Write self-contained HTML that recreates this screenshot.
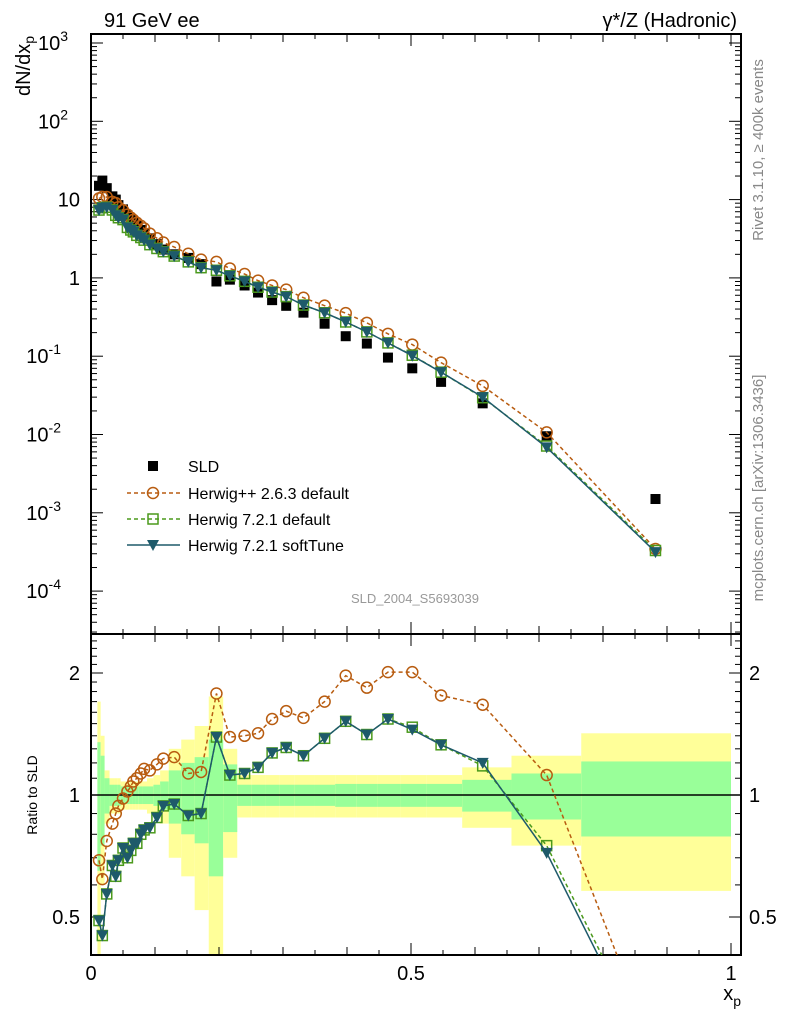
<!DOCTYPE html>
<html><head><meta charset="utf-8"><style>
html,body{margin:0;padding:0;background:#fff;overflow:hidden;width:786px;height:1024px}
svg{display:block;position:absolute;left:0;top:0;font-family:"Liberation Sans",sans-serif}
</style></head><body>
<svg id="c" width="786" height="1024" viewBox="0 0 786 1024" xmlns="http://www.w3.org/2000/svg" overflow="hidden">
<defs>
<clipPath id="cm"><rect x="91" y="34" width="650" height="600"/></clipPath>
<clipPath id="cr"><rect x="91" y="634" width="650" height="321"/></clipPath>
</defs>
<g id="bands" clip-path="url(#cr)"></g>
<g id="grid"></g>
<g id="series"></g>
<text x="104" y="27" font-size="20">91 GeV ee</text>
<text x="737" y="27" font-size="20" text-anchor="end">γ*/Z (Hadronic)</text>
<text transform="translate(30,36) rotate(-90)" font-size="20" text-anchor="end">dN/dx<tspan font-size="14" dy="4">p</tspan></text>
<text transform="translate(37,795) rotate(-90)" font-size="14" text-anchor="middle">Ratio to SLD</text>
<text x="741" y="1000" font-size="20" text-anchor="end">x<tspan font-size="14" dy="6">p</tspan></text>
<text transform="translate(763,150) rotate(-90)" font-size="15" fill="#888" text-anchor="middle">Rivet 3.1.10, ≥ 400k events</text>
<text transform="translate(763,488) rotate(-90)" font-size="15" fill="#888" text-anchor="middle">mcplots.cern.ch [arXiv:1306.3436]</text>
<text x="415" y="603" font-size="13" fill="#999" text-anchor="middle">SLD_2004_S5693039</text>
<g id="legend"></g>
</svg>
<script>
const xs=[0.0125,0.0177,0.0246,0.0334,0.0387,0.0428,0.050,0.0569,0.0622,0.0662,0.0716,0.0778,0.083,0.092,0.103,0.113,0.130,0.152,0.172,0.196,0.217,0.240,0.261,0.283,0.305,0.332,0.365,0.398,0.431,0.464,0.502,0.547,0.612,0.712,0.882];
const binEdges=[0.01,0.0151,0.0212,0.029,0.036,0.0408,0.0464,0.0535,0.0596,0.0642,0.0689,0.0747,0.0804,0.0875,0.0975,0.108,0.1215,0.141,0.162,0.184,0.2065,0.2285,0.2505,0.272,0.294,0.3185,0.3485,0.3815,0.4145,0.4475,0.483,0.5245,0.58,0.657,0.766,1.0];
const sld=[15,17.5,14,11,10,8.5,7.5,6.3,5.6,5.1,4.6,4.1,3.7,3.2,2.7,2.3,2.0,1.8,1.5,0.9,0.95,0.8,0.65,0.52,0.44,0.36,0.26,0.18,0.145,0.096,0.07,0.047,0.025,0.0095,0.0015];
const ratioOld=[0.69,0.62,0.77,0.85,0.90,0.94,0.98,1.02,1.05,1.08,1.10,1.13,1.16,1.15,1.19,1.23,1.24,1.13,1.14,1.78,1.39,1.40,1.42,1.54,1.61,1.55,1.70,1.97,1.84,2.01,2.01,1.76,1.67,1.12,0.23];
const ratioDef=[0.49,0.45,0.57,0.67,0.63,0.69,0.74,0.70,0.73,0.76,0.76,0.80,0.82,0.83,0.88,0.94,0.95,0.89,0.90,1.39,1.12,1.13,1.17,1.27,1.31,1.25,1.38,1.52,1.41,1.54,1.47,1.33,1.18,0.75,0.22];
const ratioSoft=[0.49,0.45,0.57,0.67,0.63,0.69,0.74,0.70,0.73,0.76,0.76,0.80,0.82,0.83,0.88,0.94,0.95,0.89,0.90,1.39,1.12,1.13,1.17,1.27,1.31,1.25,1.38,1.52,1.41,1.54,1.45,1.33,1.20,0.72,0.21];
const errTot=[0.7,0.4,0.15,0.1,0.1,0.1,0.08,0.08,0.08,0.08,0.08,0.08,0.08,0.1,0.12,0.15,0.3,0.37,0.48,0.75,0.3,0.12,0.12,0.12,0.12,0.12,0.12,0.12,0.12,0.12,0.12,0.12,0.17,0.25,0.42];
const errStat=[0.35,0.25,0.1,0.06,0.06,0.06,0.05,0.05,0.05,0.05,0.05,0.05,0.05,0.05,0.06,0.08,0.15,0.2,0.24,0.37,0.19,0.06,0.06,0.06,0.06,0.06,0.06,0.065,0.065,0.065,0.065,0.065,0.09,0.13,0.21];
const mainTicks=["10^3","10^2","10","1","10^-1","10^-2","10^-3","10^-4"];
const ratioTicks=["2","1","0.5"];
const xTicks=["0","0.5","1"];

const NS="http://www.w3.org/2000/svg";
const X=v=>91+640*v;
const Y=v=>43+78.3*(3-Math.log10(v));
const R=r=>795-122*Math.log2(r);
function mk(tag,at,parent){const e=document.createElementNS(NS,tag);for(const k in at)e.setAttribute(k,at[k]);parent.appendChild(e);return e;}
const bands=document.getElementById('bands'),grid=document.getElementById('grid'),ser=document.getElementById('series'),leg=document.getElementById('legend');

xs.forEach((x,i)=>{
  const x0=X(binEdges[i]),x1=X(binEdges[i+1]);
  const lo=Math.max(1-errTot[i],0.3);
  const y=mk('rect',{x:x0,y:R(1+errTot[i]),width:x1-x0,height:R(lo)-R(1+errTot[i]),fill:'#ffff99'},bands);
  
  
  const g=mk('rect',{x:x0,y:R(1+errStat[i]),width:x1-x0,height:R(1-errStat[i])-R(1+errStat[i]),fill:'#99ff99'},bands);
  
  
});
const one=mk('line',{x1:91,x2:741,y1:R(1),y2:R(1),stroke:'#000','stroke-width':1.5},bands);



[[34,634],[634,955]].forEach(([t,b],k)=>{
  const f=mk('rect',{x:91,y:t,width:650,height:b-t,fill:'none',stroke:'#000','stroke-width':2},grid);
  
  
  for(let j=0;j<=20;j++){
    const v=j*0.05,px=X(v),L=j%10==0?12:(j%2==0?8:5);
    mk('line',{x1:px,x2:px,y1:b,y2:b-L,stroke:'#000','stroke-width':1},grid);
    mk('line',{x1:px,x2:px,y1:t,y2:t+L,stroke:'#000','stroke-width':1},grid);
  }
});
xTicks.forEach(s=>{
  const t=mk('text',{x:X(parseFloat(s)),y:980,'font-size':20,'text-anchor':'middle'},grid);
  t.textContent=s;
  
  
});
for(let d=-5;d<=3;d++){
  for(let m=1;m<10;m++){
    const v=m*Math.pow(10,d),py=Y(v);
    if(py<34||py>634)continue;
    const L=m==1?12:6;
    mk('line',{x1:91,x2:91+L,y1:py,y2:py,stroke:'#000'},grid);
    mk('line',{x1:741,x2:741-L,y1:py,y2:py,stroke:'#000'},grid);
  }
}
mainTicks.forEach(s=>{
  let v;
  if(s.includes('^')){const e=parseInt(s.split('^')[1]);v=Math.pow(10,e);}else v=parseFloat(s);
  const t=mk('text',{x:s.includes('^')?(s.includes('-')?61:68):80,y:Y(v)+7,'font-size':20,'text-anchor':'end'},grid);
  
  
  if(s.includes('^')){
    t.appendChild(document.createTextNode('10'));
    const sp=mk('tspan',{'font-size':14,dy:-9},t);sp.textContent=s.split('^')[1];
  } else t.textContent=s;
});
for(let k=4;k<=25;k++){
  const r=k/10,py=R(r);
  if(py<634||py>955)continue;
  const L=(k==5||k==10||k==20)?12:6;
  mk('line',{x1:91,x2:91+L,y1:py,y2:py,stroke:'#000'},grid);
  mk('line',{x1:741,x2:741-L,y1:py,y2:py,stroke:'#000'},grid);
}
ratioTicks.forEach(s=>{
  const r=parseFloat(s);
  const a=mk('text',{x:80,y:R(r)+7,'font-size':20,'text-anchor':'end'},grid);a.textContent=s;
  
  
  const b=mk('text',{x:749,y:R(r)+7,'font-size':20},grid);b.textContent=s;
  
  
});

function marker(type,cx,cy,parent,col){
  let e;
  if(type=='sq')e=mk('rect',{x:cx-5,y:cy-5,width:10,height:10,fill:'#000'},parent);
  if(type=='circ')e=mk('circle',{cx,cy,r:5.5,fill:'none',stroke:col,'stroke-width':1.5},parent);
  if(type=='osq')e=mk('rect',{x:cx-5,y:cy-5,width:10,height:10,fill:'none',stroke:col,'stroke-width':1.5},parent);
  if(type=='tri')e=mk('path',{d:`M${cx-6},${cy-5}L${cx+6},${cy-5}L${cx},${cy+6}Z`,fill:col},parent);
  return e;
}
const models=[
  {name:'herwigpp-263',ratio:ratioOld,col:'#b85c10',dash:'4,3',m:'circ',label:'Herwig++ 2.6.3 default'},
  {name:'herwig-721-default',ratio:ratioDef,col:'#4b9a1c',dash:'4,3',m:'osq',label:'Herwig 7.2.1 default'},
  {name:'herwig-721-softtune',ratio:ratioSoft,col:'#1e5a6a',dash:null,m:'tri',label:'Herwig 7.2.1 softTune'}
];
const gm=mk('g',{'clip-path':'url(#cm)'},ser),gr=mk('g',{'clip-path':'url(#cr)'},ser);
xs.forEach((x,i)=>{
  const s=marker('sq',X(x),Y(sld[i]),gm);
  
  
});
models.forEach(md=>{
  const ptsM=xs.map((x,i)=>X(x)+','+Y(sld[i]*md.ratio[i])).join(' ');
  const ptsR=xs.map((x,i)=>X(x)+','+R(md.ratio[i])).join(' ');
  [[gm,ptsM,'main'],[gr,ptsR,'ratio']].forEach(([g,p,kind])=>{
    const at={points:p,fill:'none',stroke:md.col,'stroke-width':1.5};
    if(md.dash)at['stroke-dasharray']=md.dash;
    const l=mk('polyline',at,g);
    
    
  });
  xs.forEach((x,i)=>{
    const a=marker(md.m,X(x),Y(sld[i]*md.ratio[i]),gm,md.col);
    
    
    const b=marker(md.m,X(x),R(md.ratio[i]),gr,md.col);
    
    
  });
});

const ly=[466,493,519,545];
const e0=marker('sq',153,ly[0],leg);


const t0=mk('text',{x:188,y:ly[0]+6,'font-size':16},leg);t0.textContent='SLD';


models.forEach((md,k)=>{
  const y=ly[k+1];
  const at={x1:127,x2:180,y1:y,y2:y,stroke:md.col,'stroke-width':1.5};
  if(md.dash)at['stroke-dasharray']=md.dash;
  const l=mk('line',at,leg);
  
  
  const m=marker(md.m,153,y,leg,md.col);
  
  
  const t=mk('text',{x:188,y:y+6,'font-size':16},leg);t.textContent=md.label;
  
  
});
</script>
</body></html>
